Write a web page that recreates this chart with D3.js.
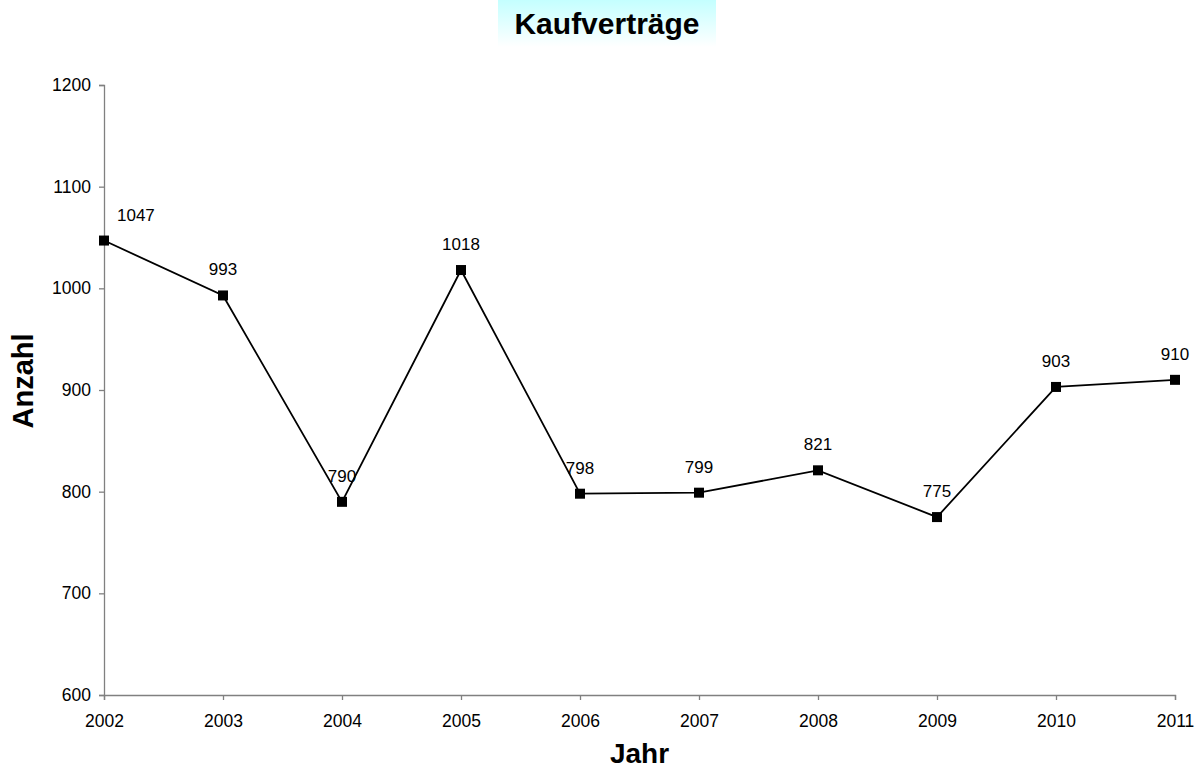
<!DOCTYPE html>
<html>
<head>
<meta charset="utf-8">
<script src="https://cdn.jsdelivr.net/npm/d3@7"></script>
<style>
  body { margin: 0; background: #fff; }
  text { font-family: "Liberation Sans", Arial, sans-serif; }
</style>
</head>
<body>
<svg id="chart" width="1199" height="772"></svg>
<script>
var years = [2002, 2003, 2004, 2005, 2006, 2007, 2008, 2009, 2010, 2011];
var counts = [1047, 993, 790, 1018, 798, 799, 821, 775, 903, 910];
var yTicks = [600, 700, 800, 900, 1000, 1100, 1200];

const margin = { top: 85, right: 24, bottom: 77, left: 104 },
  width = 1199 - margin.left - margin.right,
  height = 772 - margin.top - margin.bottom;

const svg = d3.select("#chart");

// title with the pale cyan box behind it
const defs = svg.append("defs");
const grad = defs.append("linearGradient")
  .attr("id", "titleBg")
  .attr("x1", 0).attr("y1", 0).attr("x2", 0).attr("y2", 1);
grad.append("stop").attr("offset", "0%").attr("stop-color", "#c4ffff");
grad.append("stop").attr("offset", "100%").attr("stop-color", "#ffffff");

svg.append("rect")
  .attr("x", 498).attr("y", 0)
  .attr("width", 218).attr("height", 47)
  .style("fill", "url(#titleBg)");

svg.append("text")
  .attr("x", 607).attr("y", 34)
  .attr("text-anchor", "middle")
  .style("font-size", "30px")
  .style("font-weight", "bold")
  .text("Kaufverträge");

const g = svg.append("g")
  .attr("transform", "translate(" + margin.left + "," + margin.top + ")");

const x = d3.scalePoint().domain(years).range([0, width]);
const y = d3.scaleLinear().domain([600, 1200]).range([height, 0]);

// axes
const yAxis = g.append("g")
  .call(d3.axisLeft(y).tickValues(yTicks).tickSize(5).tickPadding(8).tickFormat(d3.format("d")));
const xAxis = g.append("g")
  .attr("transform", "translate(0," + height + ")")
  .call(d3.axisBottom(x).tickSize(5).tickPadding(15));

[yAxis, xAxis].forEach(function (a) {
  a.select(".domain").attr("stroke", "#808080").attr("stroke-width", 1.3);
  a.selectAll(".tick line").attr("stroke", "#808080").attr("stroke-width", 1.3);
  a.selectAll(".tick text")
    .style("font-size", "17.5px")
    .style("font-family", "'Liberation Sans', Arial, sans-serif")
    .attr("fill", "#000");
});

// line
const line = d3.line()
  .x(function (d, i) { return x(years[i]); })
  .y(function (d) { return y(d); });

g.append("path")
  .datum(counts)
  .attr("fill", "none")
  .attr("stroke", "#000")
  .attr("stroke-width", 1.8)
  .attr("d", line);

// markers
g.selectAll("rect.marker")
  .data(counts)
  .enter().append("rect")
  .attr("class", "marker")
  .attr("x", function (d, i) { return x(years[i]) - 5; })
  .attr("y", function (d) { return y(d) - 5; })
  .attr("width", 10).attr("height", 10)
  .attr("fill", "#000");

// value labels
g.selectAll("text.lbl")
  .data(counts)
  .enter().append("text")
  .attr("class", "lbl")
  .attr("x", function (d, i) { return i == 0 ? x(years[i]) + 13 : x(years[i]); })
  .attr("y", function (d) { return y(d) - 20; })
  .attr("text-anchor", function (d, i) { return i == 0 ? "start" : "middle"; })
  .style("font-size", "17px")
  .text(function (d) { return d; });

// axis titles
svg.append("text")
  .attr("x", margin.left + width / 2).attr("y", 763)
  .attr("text-anchor", "middle")
  .style("font-size", "28px")
  .style("font-weight", "bold")
  .text("Jahr");

svg.append("text")
  .attr("transform", "translate(33," + (margin.top + height / 2 - 9) + ") rotate(-90)")
  .attr("text-anchor", "middle")
  .style("font-size", "29px")
  .style("font-weight", "bold")
  .text("Anzahl");
</script>
</body>
</html>
